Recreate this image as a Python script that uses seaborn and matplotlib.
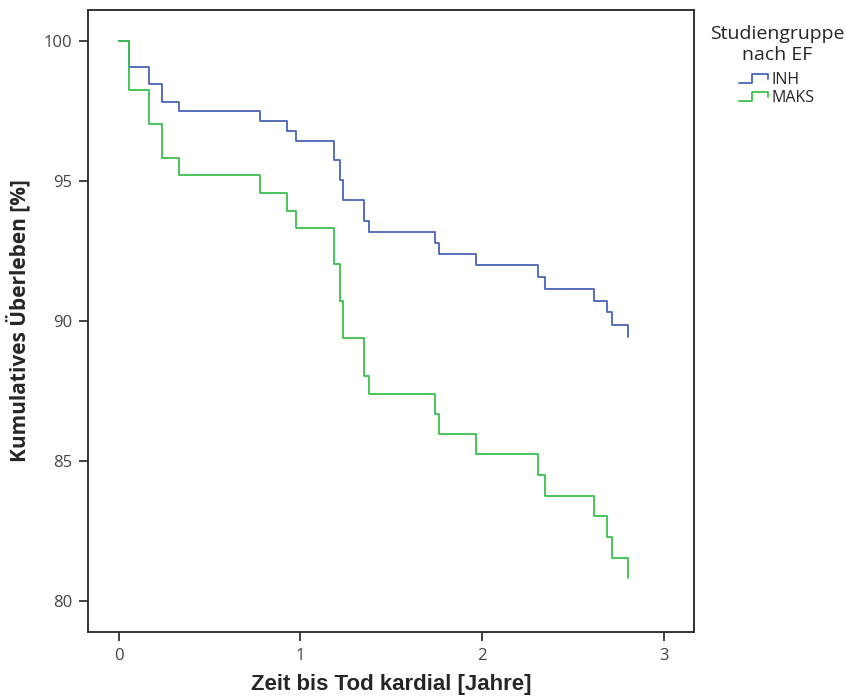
import numpy as np
import pandas as pd
import matplotlib
matplotlib.use("Agg")
import matplotlib.pyplot as plt
import seaborn as sns
from matplotlib.lines import Line2D
from matplotlib.legend_handler import HandlerBase

# ---- data ----
groups = ["INH", "MAKS"]
times = [0.0, 0.060, 0.169, 0.237, 0.331, 0.777, 0.927, 0.975, 1.184, 1.217,
         1.232, 1.351, 1.376, 1.739, 1.764, 1.963, 2.307, 2.343, 2.613, 2.686,
         2.715, 2.798]
surv_inh = [100.0, 99.08, 98.46, 97.83, 97.50, 97.14, 96.79, 96.44, 95.75, 95.05,
            94.32, 93.57, 93.17, 92.77, 92.39, 92.00, 91.56, 91.13, 90.73, 90.31,
            89.86, 89.44]
surv_maks = [100.0, 98.25, 97.02, 95.83, 95.21, 94.56, 93.93, 93.31, 92.02, 90.70,
             89.38, 88.05, 87.39, 86.69, 85.95, 85.24, 84.51, 83.76, 83.04, 82.29,
             81.55, 80.81]
x_ticks = [0, 1, 2, 3]
y_ticks = [80, 85, 90, 95, 100]
colors = {"INH": "#4a64b9", "MAKS": "#3cbf4c"}

df = pd.DataFrame({
    "Zeit": times + times,
    "Surv": surv_inh + surv_maks,
    "Gruppe": ["INH"] * len(times) + ["MAKS"] * len(times),
})

sns.set_style("white")
plt.rcParams["font.family"] = ["Open Sans", "DejaVu Sans"]

fig = plt.figure(figsize=(8.46, 6.99), dpi=100)
ax = fig.add_axes([0.104, 0.0959, 0.716, 0.8898])

sns.lineplot(data=df, x="Zeit", y="Surv", hue="Gruppe", hue_order=groups,
             palette=colors, estimator=None, sort=False,
             drawstyle="steps-post", linewidth=1.3, ax=ax, legend=False)

ax.set_xlim(-0.168, 3.162)
ax.set_ylim(78.89, 101.11)
ax.set_xticks(x_ticks)
ax.set_yticks(y_ticks)
ax.set_xticklabels([str(v) for v in x_ticks])
ax.set_yticklabels([str(v) for v in y_ticks])

for s in ax.spines.values():
    s.set_color("#333333")
    s.set_linewidth(1.4)

ax.tick_params(axis="both", direction="out", length=6.5, width=1.2,
               color="#222222", labelsize=12, labelcolor="#444444",
               bottom=True, left=True)
ax.tick_params(axis="y", pad=5)
ax.tick_params(axis="x", pad=5)

ax.set_xlabel("Zeit bis Tod kardial [Jahre]", fontsize=16, fontweight="bold",
              family=["Liberation Sans Narrow", "Liberation Sans"], labelpad=7)
ax.set_ylabel("Kumulatives Überleben [%]", fontsize=15, fontweight="bold",
              labelpad=9)


class StepHandler(HandlerBase):
    def create_artists(self, legend, orig_handle, xdescent, ydescent,
                       width, height, fontsize, trans):
        w, h = width, height
        xs = np.array([0, 0.42, 0.42, 0.95, 0.95]) * w - xdescent
        ys = np.array([0.15, 0.15, 0.85, 0.85, 0.45]) * h - ydescent
        ln = Line2D(xs, ys, color=orig_handle.get_color(),
                    lw=orig_handle.get_linewidth(), transform=trans)
        return [ln]


handles = [Line2D([0], [0], color=colors[g], lw=1.3) for g in groups]
leg = fig.legend(handles, groups, title="Studiengruppe\nnach EF",
                 loc="upper left", bbox_to_anchor=(0.822, 0.985),
                 frameon=False, fontsize=11.5, title_fontsize=14,
                 handlelength=1.9, handleheight=0.9, handletextpad=0.15,
                 labelspacing=0.1,
                 handler_map={Line2D: StepHandler()})
leg.get_title().set_multialignment("center")
leg._legend_box.sep = 6

fig.savefig("out.png", dpi=100)
